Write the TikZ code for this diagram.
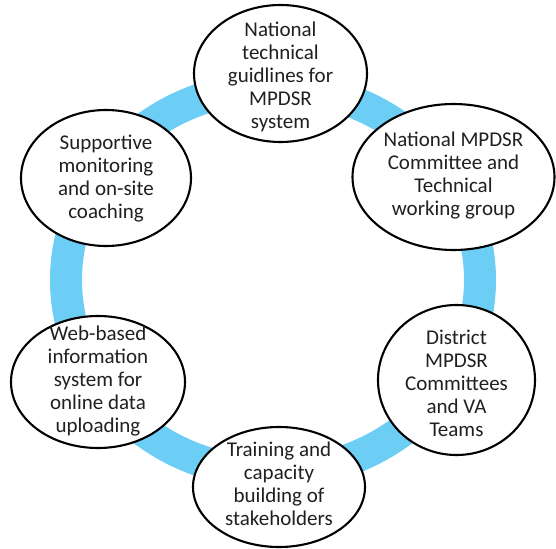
\documentclass[tikz,border=0pt]{standalone}
\usepackage{fontspec}
\setmainfont{Carlito}
\usetikzlibrary{shapes.geometric}
\definecolor{ringblue}{RGB}{108,205,245}
\definecolor{txtgray}{RGB}{35,31,32}
\tikzset{
  bubble/.style={ellipse, draw=black, line width=2.1pt, fill=white, inner sep=0pt},
  txt/.style={align=center, text=txtgray, font=\fontsize{21}{23}\selectfont, inner sep=0pt}
}
\begin{document}
\begin{tikzpicture}[x=1pt,y=-1pt]
\useasboundingbox (0,0) rectangle (556,548);
\draw[ringblue, line width=32pt] (273,280) ellipse [x radius=207, y radius=193];
\node[bubble, minimum width=173pt, minimum height=137pt] (n1) at (280.5,73.5) {};
\node[txt] (t1) at (280.5,77) {National\\technical\\guidlines for\\MPDSR\\system};
\node[bubble, minimum width=202pt, minimum height=146pt] (n2) at (453.5,177) {};
\node[txt] (t2) at (453.5,176) {National MPDSR\\Committee and\\Technical\\working group};
\node[bubble, minimum width=157pt, minimum height=150pt] (n3) at (456.5,380) {};
\node[txt] (t3) at (456.5,383) {District\\MPDSR\\Committees\\and VA\\Teams};
\node[bubble, minimum width=172pt, minimum height=120pt] (n4) at (279,487) {};
\node[txt] (t4) at (279,484) {Training and\\capacity\\building of\\stakeholders};
\node[bubble, minimum width=174pt, minimum height=132pt] (n5) at (98,382) {};
\node[txt] (t5) at (98,381) {Web-based\\information\\system for\\online data\\uploading};
\node[bubble, minimum width=170pt, minimum height=136pt] (n6) at (106,178) {};
\node[txt] (t6) at (106,179) {Supportive\\monitoring\\and on-site\\coaching};
\end{tikzpicture}
\end{document}
